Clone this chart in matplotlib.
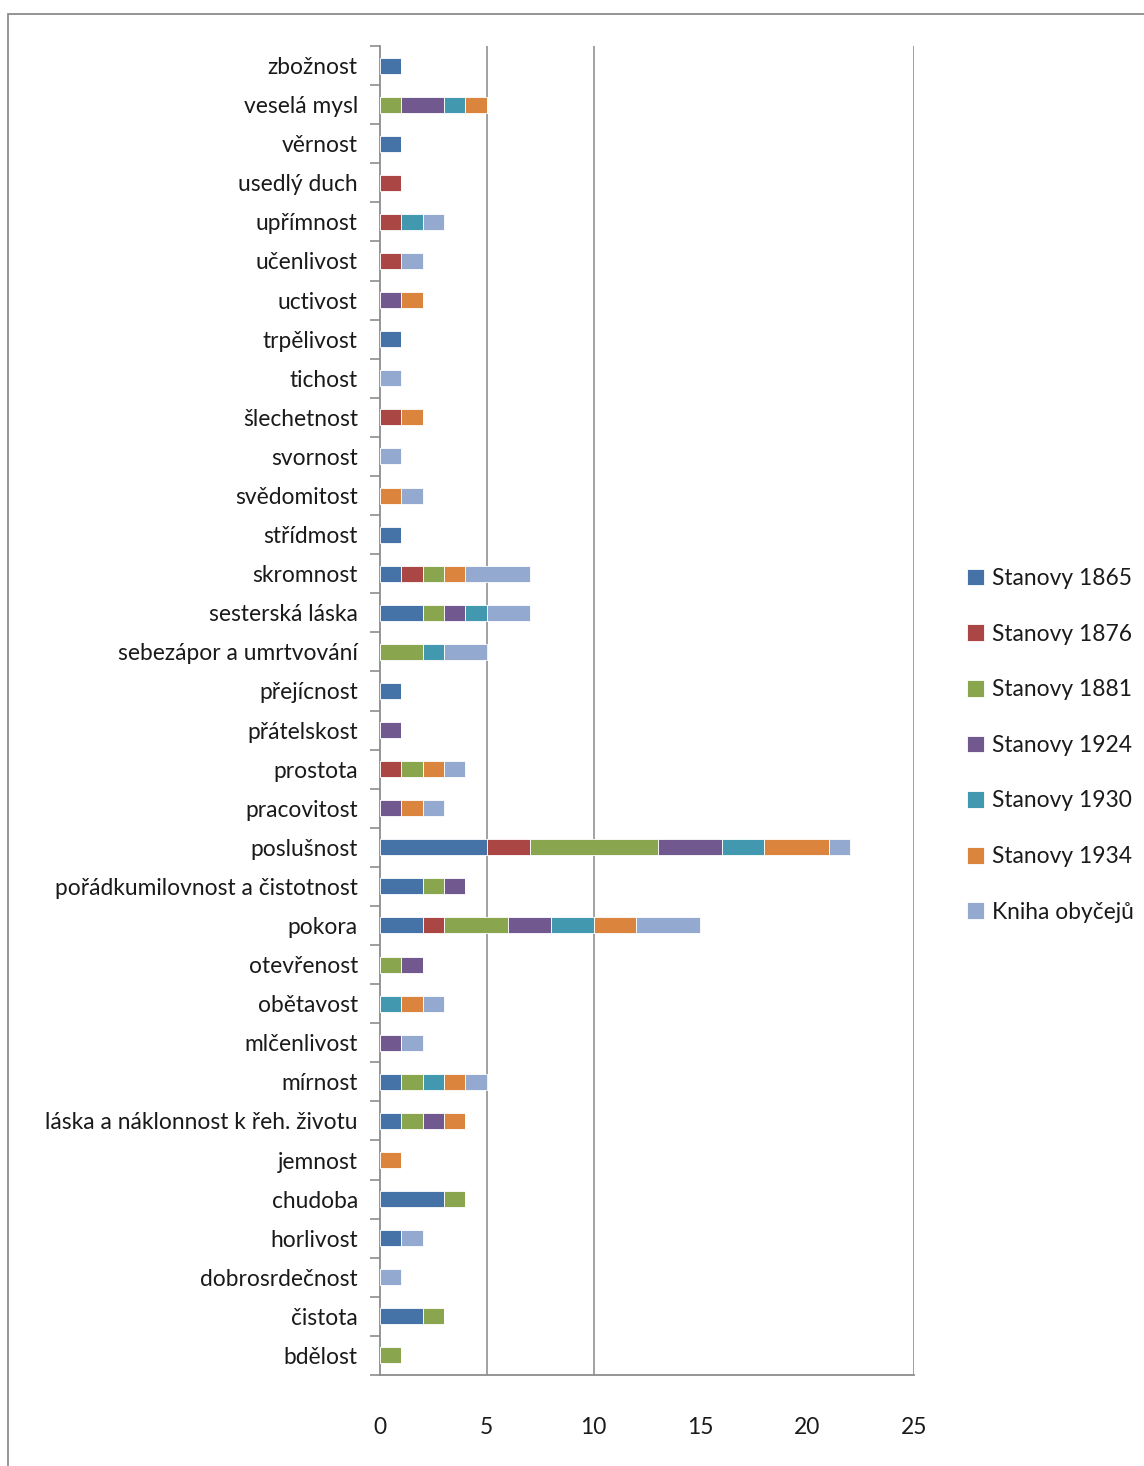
import matplotlib
matplotlib.use("Agg")
import matplotlib.pyplot as plt
import numpy as np
from matplotlib.patches import Rectangle

# categories listed top to bottom
categories = [
    "zbožnost", "veselá mysl", "věrnost", "usedlý duch", "upřímnost",
    "učenlivost", "uctivost", "trpělivost", "tichost", "šlechetnost",
    "svornost", "svědomitost", "střídmost", "skromnost", "sesterská láska",
    "sebezápor a umrtvování", "přejícnost", "přátelskost", "prostota",
    "pracovitost", "poslušnost", "pořádkumilovnost a čistotnost", "pokora",
    "otevřenost", "obětavost", "mlčenlivost", "mírnost",
    "láska a náklonnost k řeh. životu", "jemnost", "chudoba", "horlivost",
    "dobrosrdečnost", "čistota", "bdělost",
]

series_names = ["Stanovy 1865", "Stanovy 1876", "Stanovy 1881", "Stanovy 1924",
                "Stanovy 1930", "Stanovy 1934", "Kniha obyčejů"]

stanovy_1865 = [1, 0, 1, 0, 0, 0, 0, 1, 0, 0, 0, 0, 1, 1, 2, 0, 1, 0, 0, 0, 5, 2, 2,
                0, 0, 0, 1, 1, 0, 3, 1, 0, 2, 0]
stanovy_1876 = [0, 0, 0, 1, 1, 1, 0, 0, 0, 1, 0, 0, 0, 1, 0, 0, 0, 0, 1, 0, 2, 0, 1,
                0, 0, 0, 0, 0, 0, 0, 0, 0, 0, 0]
stanovy_1881 = [0, 1, 0, 0, 0, 0, 0, 0, 0, 0, 0, 0, 0, 1, 1, 2, 0, 0, 1, 0, 6, 1, 3,
                1, 0, 0, 1, 1, 0, 1, 0, 0, 1, 1]
stanovy_1924 = [0, 2, 0, 0, 0, 0, 1, 0, 0, 0, 0, 0, 0, 0, 1, 0, 0, 1, 0, 1, 3, 1, 2,
                1, 0, 1, 0, 1, 0, 0, 0, 0, 0, 0]
stanovy_1930 = [0, 1, 0, 0, 1, 0, 0, 0, 0, 0, 0, 0, 0, 0, 1, 1, 0, 0, 0, 0, 2, 0, 2,
                0, 1, 0, 1, 0, 0, 0, 0, 0, 0, 0]
stanovy_1934 = [0, 1, 0, 0, 0, 0, 1, 0, 0, 1, 0, 1, 0, 1, 0, 0, 0, 0, 1, 1, 3, 0, 2,
                0, 1, 0, 1, 1, 1, 0, 0, 0, 0, 0]
kniha_obyceju = [0, 0, 0, 0, 1, 1, 0, 0, 1, 0, 1, 1, 0, 3, 2, 2, 0, 0, 1, 1, 1, 0, 3,
                 0, 1, 1, 1, 0, 0, 0, 1, 1, 0, 0]

x_ticks = [0, 5, 10, 15, 20, 25]

colors = ["#4572A7", "#AA4643", "#89A54E", "#71588F", "#4198AF", "#DB843D", "#93A9CF"]

plt.rcParams["font.family"] = ["Lato", "DejaVu Sans"]
FS = 16.4

W, H = 1144, 1466
fig = plt.figure(figsize=(W / 100, H / 100), dpi=100)

# outer chart-area border (cropped on right and bottom)
fig.patches.append(Rectangle((8 / W, -0.05), 1.2, 1 - 14 / H + 0.05,
                             transform=fig.transFigure, fill=False,
                             edgecolor="#8c8c8c", linewidth=1.3))

left, right = 380 / W, 914 / W
top, bottom = 1 - 46 / H, 1 - 1375 / H
ax = fig.add_axes([left, bottom, right - left, top - bottom])

all_series = [stanovy_1865, stanovy_1876, stanovy_1881, stanovy_1924,
              stanovy_1930, stanovy_1934, kniha_obyceju]
n = len(categories)
y = np.arange(n)
lefts = np.zeros(n)
for name, vals, c in zip(series_names, all_series, colors):
    vals = np.array(vals, dtype=float)
    ax.barh(y, vals, left=lefts, height=0.41, color=c, edgecolor="#ffffff",
            linewidth=0.6, label=name, zorder=3)
    lefts += vals

ax.set_ylim(n - 0.5, -0.5)
ax.set_xlim(0, 25)

ax.set_yticks(y)
ax.set_yticklabels(categories, fontsize=FS, color="#1a1a1a")
ax.set_yticks(np.arange(-0.5, n, 1), minor=True)
ax.tick_params(axis="y", which="major", length=0, pad=16)
ax.tick_params(axis="y", which="minor", length=7, width=1.2, color="#8c8c8c")

ax.set_xticks(x_ticks)
ax.set_xticklabels([str(t) for t in x_ticks], fontsize=FS, color="#1a1a1a")
ax.tick_params(axis="x", which="major", length=0, pad=30)
ax.set_xticks([0, 5, 10, 25], minor=True)
ax.tick_params(axis="x", which="minor", length=8, width=1.2, color="#8c8c8c")

for gx in [5, 10, 25]:
    ax.axvline(gx, color="#9a9a9a", linewidth=1.3, zorder=1)

for s in ["top", "right"]:
    ax.spines[s].set_visible(False)
for s in ["left", "bottom"]:
    ax.spines[s].set_color("#8c8c8c")
    ax.spines[s].set_linewidth(1.3)

leg = fig.legend(loc="upper left", bbox_to_anchor=(967 / W, 1 - 568 / H),
                 frameon=False, fontsize=FS, handlelength=0.75, handleheight=0.75,
                 handletextpad=0.35, labelspacing=1.52, borderaxespad=0,
                 borderpad=0)
for t in leg.get_texts():
    t.set_color("#1a1a1a")

fig.savefig("out.png", dpi=100)
